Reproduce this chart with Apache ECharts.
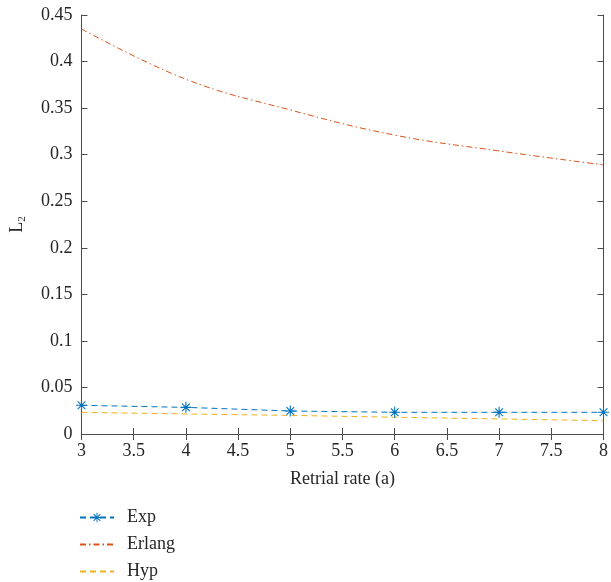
<!DOCTYPE html>
<html>
<head>
<meta charset="utf-8">
<script src="https://cdn.jsdelivr.net/npm/echarts@6/dist/echarts.min.js"></script>
<style>
  html, body { margin: 0; padding: 0; background: #fff; }
  #chart { width: 611px; height: 582px; }
</style>
</head>
<body>
<div id="chart"></div>
<script>
var retrialRate = [3, 4, 5, 6, 7, 8];
var expValues = [0.0308, 0.0286, 0.0247, 0.0233, 0.0233, 0.0233];
var erlangValues = [0.435, 0.381, 0.348, 0.321, 0.304, 0.289];
var hypValues = [0.0233, 0.0215, 0.0200, 0.0180, 0.0162, 0.0143];
var seriesNames = ['Exp', 'Erlang', 'Hyp'];

var font = '"Liberation Serif", "DejaVu Serif", serif';
var ink = '#262626';
var axisColor = '#4d4d4d';
var asterisk = 'path://M-1,-10L1,-10L1,10L-1,10Z M-10,-1L10,-1L10,1L-10,1Z ' +
  'M-6.3,-7.7L7.7,6.3L6.3,7.7L-7.7,-6.3Z M7.7,-6.3L-6.3,7.7L-7.7,6.3L6.3,-7.7Z';

function pairs(xs, ys) {
  return xs.map(function(x, i) { return [x, ys[i]]; });
}

var chart = echarts.init(document.getElementById('chart'), null, { renderer: 'canvas' });
var hiddenAxis = {
  axisLine: { show: true, lineStyle: { color: axisColor, width: 1 } },
  axisTick: { show: true, inside: true, length: 6, lineStyle: { color: axisColor } },
  axisLabel: { show: false },
  splitLine: { show: false }
};
chart.setOption({
  animation: false,
  grid: { left: 79, right: 2, top: 15, bottom: 148, containLabel: false },
  legend: {
    orient: 'vertical',
    left: 79,
    top: 508,
    padding: 0,
    itemWidth: 34,
    itemHeight: 12,
    itemGap: 8,
    textStyle: { fontFamily: font, fontSize: 18, lineHeight: 19, color: ink, padding: [0, 0, 0, 8] },
    data: [
      { name: seriesNames[0] },
      { name: seriesNames[1], itemStyle: { opacity: 0 } },
      { name: seriesNames[2], itemStyle: { opacity: 0 } }
    ]
  },
  xAxis: [
    Object.assign({
      type: 'value', min: 3, max: 8, interval: 0.5, position: 'bottom',
      name: 'Retrial rate (a)', nameLocation: 'middle', nameGap: 36,
      nameTextStyle: { fontFamily: font, fontSize: 18, color: ink }
    }, hiddenAxis, {
      axisLabel: { show: true, fontFamily: font, fontSize: 18, color: ink, margin: 8 }
    }),
    Object.assign({ type: 'value', min: 3, max: 8, interval: 0.5, position: 'top' }, hiddenAxis)
  ],
  yAxis: [
    Object.assign({
      type: 'value', min: 0, max: 0.45, interval: 0.05, position: 'left',
      name: 'L{s|2}', nameLocation: 'middle', nameGap: 54, nameRotate: 90,
      nameTextStyle: { fontFamily: font, fontSize: 18, color: ink,
        rich: { s: { fontFamily: font, fontSize: 11, color: ink, verticalAlign: 'bottom', padding: [10, 0, 0, 0] } } }
    }, hiddenAxis, {
      axisLabel: { show: true, fontFamily: font, fontSize: 18, color: ink, margin: 9 }
    }),
    Object.assign({ type: 'value', min: 0, max: 0.45, interval: 0.05, position: 'right' }, hiddenAxis)
  ],
  series: [
    {
      name: seriesNames[0], type: 'line', data: pairs(retrialRate, expValues),
      symbol: asterisk, symbolSize: 11, showSymbol: true,
      itemStyle: { color: '#0072BD' },
      lineStyle: { color: '#0072BD', width: 1, type: [6, 4] }
    },
    {
      name: seriesNames[1], type: 'line', data: pairs(retrialRate, erlangValues),
      smooth: 0.4, symbol: 'none',
      itemStyle: { color: '#D95319' },
      lineStyle: { color: '#D95319', width: 1, type: [6, 3, 1.5, 3] }
    },
    {
      name: seriesNames[2], type: 'line', data: pairs(retrialRate, hypValues),
      symbol: 'none',
      itemStyle: { color: '#EDB120' },
      lineStyle: { color: '#EDB120', width: 1, type: [6, 4] }
    }
  ]
});
window.addEventListener('resize', function() { chart.resize(); });
</script>
</body>
</html>
